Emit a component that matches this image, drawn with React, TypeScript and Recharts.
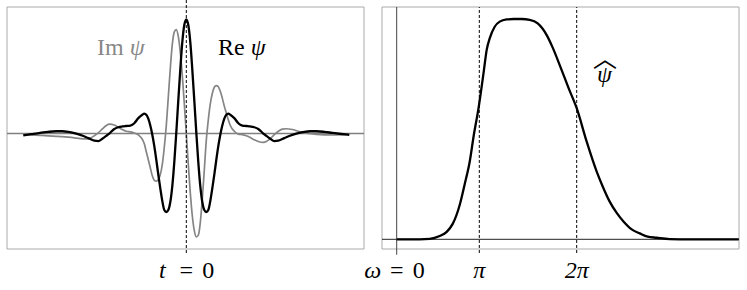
import React from 'react'
import { LineChart, Line, XAxis, YAxis, ReferenceLine, ReferenceArea } from 'recharts'

// time axis (units of ~10px on the original figure), t = 0 at the dashed line
const tValues = [
  -16.3, -15.5, -14.6, -13.8, -13.0, -12.4, -11.8, -11.2, -10.6, -10.0, -9.6, -9.2, -8.8, -8.4, -8.0, -7.7,
  -7.2, -6.8, -6.4, -6.0, -5.6, -5.2, -4.8, -4.4, -4.2, -4.0, -3.8, -3.6, -3.4, -3.2, -3.0, -2.8, -2.6, -2.4,
  -2.2, -2.0, -1.8, -1.6, -1.4, -1.2, -1.0, -0.8, -0.6, -0.4, -0.2, 0, 0.2, 0.4, 0.6, 0.8, 1.0, 1.2, 1.4, 1.6,
  1.8, 2.0, 2.2, 2.4, 2.6, 2.8, 3.0, 3.2, 3.4, 3.6, 3.8, 4.0, 4.2, 4.4, 4.8, 5.2, 5.6, 6.0, 6.4, 6.8, 7.2, 7.7,
  8.0, 8.4, 8.8, 9.2, 9.6, 10.0, 10.6, 11.2, 11.8, 12.4, 13.0, 13.8, 14.6, 15.5, 16.3,
]

const rePsi = [
  -0.017, -0.006, 0.006, 0.015, 0.02, 0.02, 0.015, 0.004, -0.012, -0.032, -0.048, -0.062, -0.066, -0.045, -0.02, 0.0,
  0.04, 0.055, 0.062, 0.066, 0.07, 0.09, 0.135, 0.165, 0.175, 0.165, 0.13, 0.07, -0.01, -0.11, -0.23, -0.36, -0.48, -0.59,
  -0.67, -0.687, -0.67, -0.6, -0.46, -0.25, 0.01, 0.29, 0.56, 0.8, 0.95, 1.0, 0.95, 0.8, 0.56, 0.29, 0.01, -0.25, -0.46, -0.6,
  -0.67, -0.687, -0.67, -0.59, -0.48, -0.36, -0.23, -0.11, -0.01, 0.07, 0.13, 0.165, 0.175, 0.165, 0.135, 0.09, 0.07, 0.066, 0.062, 0.055, 0.04, 0.0,
  -0.02, -0.045, -0.066, -0.062, -0.048, -0.032, -0.012, 0.004, 0.015, 0.02, 0.02, 0.015, 0.006, -0.004, -0.012,
]

const imPsi = [
  -0.009, -0.012, -0.016, -0.02, -0.024, -0.027, -0.032, -0.038, -0.045, -0.047, -0.04, -0.02, 0.005, 0.04, 0.07, 0.082,
  0.075, 0.055, 0.035, 0.02, 0.015, 0.005, -0.012, -0.05, -0.09, -0.16, -0.23, -0.3, -0.37, -0.41, -0.417, -0.405, -0.36, -0.27,
  -0.12, 0.07, 0.32, 0.57, 0.78, 0.89, 0.91, 0.85, 0.71, 0.51, 0.26, 0, -0.27, -0.52, -0.72, -0.85, -0.905, -0.89, -0.78, -0.57,
  -0.32, -0.06, 0.12, 0.26, 0.35, 0.405, 0.42, 0.41, 0.37, 0.31, 0.24, 0.18, 0.12, 0.07, 0.02, -0.005, -0.01, -0.02, -0.035, -0.055, -0.07, -0.078,
  -0.07, -0.045, -0.01, 0.02, 0.038, 0.042, 0.035, 0.02, 0.008, -0.002, -0.008, -0.012, -0.012, -0.01, -0.006,
]

// frequency axis, omega = 0 at the solid vertical line
const omegaValues = [
  0, 1.3, 2.3, 3.3, 4.3, 5.0, 5.6, 6.3, 6.8, 7.3, 7.7, 8.2, 8.7, 9.0, 9.3, 9.8, 10.3, 11.0, 11.7, 12.5,
  13.3, 14.1, 15.0, 15.6, 16.3, 17.2, 18.0, 19.0, 20.0, 20.6, 21.3, 22.0, 22.7, 23.5, 24.3, 25.1, 26.0, 27.3, 29.3, 34.2,
]

const psiHat = [
  0, 0, 0, 0.002, 0.015, 0.034, 0.07, 0.156, 0.25, 0.352, 0.47, 0.6, 0.76, 0.86, 0.912, 0.965, 0.988, 0.998, 1.0, 1.0,
  0.996, 0.98, 0.927, 0.87, 0.791, 0.685, 0.595, 0.443, 0.307, 0.24, 0.171, 0.12, 0.08, 0.045, 0.027, 0.012, 0.007, 0.001, 0, 0,
]

const timeTicks = [0]
const timeTickLabels = ['t = 0']
const freqTicks = [0, 8.26, 18.0]
const freqTickLabels = ['ω = 0', 'π', '2π']

const FONT = "'Liberation Serif', 'DejaVu Serif', serif"

const timeData = tValues.map((t, i) => ({ t, re: rePsi[i], im: imPsi[i] }))
const freqData = omegaValues.map((w, i) => ({ w, v: psiHat[i] }))

const makeTick = (ticks: number[], labels: string[]) => (props: any) => {
  const { x, y, payload } = props
  const label = labels[ticks.indexOf(payload.value)] ?? ''
  const base = y + 29
  const style = { fontFamily: FONT, fontSize: 24 }
  if (label.includes(' = ')) {
    const [lhs, rhs] = label.split(' = ')
    return (
      <g style={style} fill="#000">
        <text x={x - 24} y={base} textAnchor="middle" fontStyle="italic">{lhs}</text>
        <text x={x} y={base} textAnchor="middle">=</text>
        <text x={x + 22} y={base} textAnchor="middle">{rhs}</text>
      </g>
    )
  }
  return (
    <text x={x} y={base} textAnchor="middle" style={style} fontStyle="italic" fill="#000">
      {label}
    </text>
  )
}

const T_DOMAIN: [number, number] = [-17.93, 17.77]
const RE_DOMAIN: [number, number] = [-1.011, 1.108]
const W_DOMAIN: [number, number] = [-1.47, 34.23]
const V_DOMAIN: [number, number] = [-0.044, 1.0545]

export default function App() {
  return (
    <div style={{ position: 'absolute', left: 0, top: 0, width: 747, height: 290, background: '#fff' }}>
      <div style={{ position: 'absolute', left: 0, top: 0 }}>
        <LineChart width={374} height={290} data={timeData} margin={{ top: 7, right: 10, left: 7, bottom: 0 }}>
          <XAxis
            dataKey="t"
            type="number"
            domain={T_DOMAIN}
            ticks={timeTicks}
            interval={0}
            height={41}
            tickLine={false}
            axisLine={false}
            tickSize={0}
            tickMargin={0}
            tick={makeTick(timeTicks, timeTickLabels)}
          />
          <YAxis hide type="number" domain={RE_DOMAIN} />
          <ReferenceArea
            x1={T_DOMAIN[0]} x2={T_DOMAIN[1]} y1={RE_DOMAIN[0]} y2={RE_DOMAIN[1]}
            ifOverflow="visible" fill="none" fillOpacity={0} stroke="#aaaaaa" strokeWidth={1}
          />
          <ReferenceLine y={0} stroke="#808080" strokeWidth={1.4} ifOverflow="visible" />
          <Line type="monotone" dataKey="im" stroke="#858585" strokeWidth={1.7} dot={false} isAnimationActive={false} />
          <Line type="monotone" dataKey="re" stroke="#000" strokeWidth={2.3} dot={false} isAnimationActive={false} />
          <ReferenceLine
            segment={[{ x: 0, y: 1.169 }, { x: 0, y: -1.046 }]}
            stroke="#000" strokeWidth={1} strokeDasharray="3 2" ifOverflow="visible"
          />
        </LineChart>
      </div>
      <div style={{ position: 'absolute', left: 340, top: 0 }}>
        <LineChart width={407} height={290} data={freqData} margin={{ top: 7, right: 8, left: 42, bottom: 0 }}>
          <XAxis
            dataKey="w"
            type="number"
            domain={W_DOMAIN}
            ticks={freqTicks}
            interval={0}
            height={41}
            tickLine={false}
            axisLine={false}
            tickSize={0}
            tickMargin={0}
            tick={makeTick(freqTicks, freqTickLabels)}
          />
          <YAxis hide type="number" domain={V_DOMAIN} />
          <ReferenceArea
            x1={W_DOMAIN[0]} x2={W_DOMAIN[1]} y1={V_DOMAIN[0]} y2={V_DOMAIN[1]}
            ifOverflow="visible" fill="none" fillOpacity={0} stroke="#aaaaaa" strokeWidth={1}
          />
          <ReferenceLine y={0} stroke="#222" strokeWidth={1} ifOverflow="visible" />
          <ReferenceLine
            segment={[{ x: 0, y: -0.07 }, { x: 0, y: V_DOMAIN[1] }]}
            stroke="#444" strokeWidth={1} ifOverflow="visible"
          />
          {freqTicks.slice(1).map((w) => (
            <ReferenceLine
              key={w}
              segment={[{ x: w, y: -0.062 }, { x: w, y: V_DOMAIN[1] }]}
              stroke="#000" strokeWidth={1} strokeDasharray="3 2" ifOverflow="visible"
            />
          ))}
          <Line type="monotone" dataKey="v" stroke="#000" strokeWidth={2.3} dot={false} isAnimationActive={false} />
        </LineChart>
      </div>
      <svg
        width={747}
        height={290}
        style={{ position: 'absolute', left: 0, top: 0, pointerEvents: 'none', fontFamily: FONT, fontSize: 24 }}
      >
        <text x={97} y={55} fill="#888">
          Im<tspan dx={6} fontStyle="italic">ψ</tspan>
        </text>
        <text x={218} y={55} fill="#000">
          Re<tspan dx={6} fontStyle="italic">ψ</tspan>
        </text>
        <text x={593} y={82} fill="#000" fontStyle="italic">
          ψ
          <tspan dx={-19} dy={-15} fontStyle="normal" style={{ fontFamily: "'Noto Sans CJK JP'", fontSize: 24 }}>︿</tspan>
        </text>
      </svg>
    </div>
  )
}
